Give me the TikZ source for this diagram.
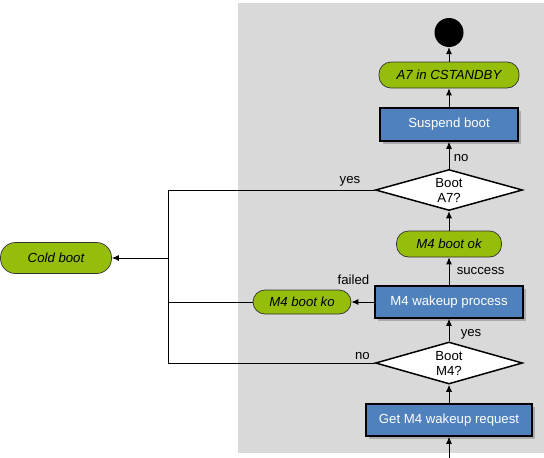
\documentclass[tikz,border=0pt]{standalone}
\usepackage{fontspec}
\setmainfont{Liberation Sans}
\usetikzlibrary{shapes.geometric,shadows,positioning,arrows.meta}
\definecolor{bggrey}{HTML}{D9D9D9}
\definecolor{boxblue}{HTML}{4F81BD}
\definecolor{stategreen}{HTML}{95BE0B}
\newcommand{\flowfont}{\fontsize{13.2}{15}\selectfont}
\tikzset{
  every node/.style={font=\flowfont},
  procbox/.style={rectangle, draw=black, line width=1.6pt, fill=boxblue, text=white, minimum height=32pt,
    drop shadow={shadow xshift=2.5pt, shadow yshift=-2.5pt, fill=black!40, opacity=0.7}},
  statebox/.style={rectangle, rounded corners=12pt, draw=black!80, line width=0.7pt, fill=stategreen,
    font=\flowfont\itshape, minimum height=26pt},
  decision/.style={diamond, draw=black, line width=1.5pt, fill=white, aspect=3.6, inner sep=0pt,
    minimum width=147pt, minimum height=42pt, align=center},
  flow/.style={-{Latex[length=7pt,width=6pt]}, line width=0.9pt},
  wire/.style={line width=0.9pt}
}
\begin{document}
\begin{tikzpicture}[x=1pt, y=-1pt, on grid]
    \useasboundingbox (0,0) rectangle (544,458);
    \fill[bggrey] (238,3) rectangle (544,453);

    \node(request) [procbox, minimum width=166pt] at (449,420) {Get M4 wakeup request};
    \node(m4q) [decision, above=57pt of request] {Boot\\M4?};
    \node(proc) [procbox, minimum width=148pt, above=61pt of m4q] {M4 wakeup process};
    \node(ok) [statebox, minimum width=105pt, above=58pt of proc] {M4 boot ok};
    \node(a7q) [decision, minimum height=41pt, above=54pt of ok] {Boot\\A7?};
    \node(suspend) [procbox, minimum width=138pt, minimum height=33pt, above=65.5pt of a7q] {Suspend boot};
    \node(standby) [statebox, minimum width=140pt, above=49.5pt of suspend] {A7 in CSTANDBY};
    \node(done) [circle, fill=black, minimum size=29pt, inner sep=0pt, above=42.5pt of standby] {};
    \node(ko) [statebox, minimum width=98pt, minimum height=24pt, left=147pt of proc] {M4 boot ko};
    \node(cold) [statebox, minimum width=111pt, minimum height=31pt, rounded corners=15pt] at (56,258) {Cold boot};
    \coordinate(entry) at (449,458);
    \coordinate(branch) at (168,258);

    \draw[flow] (entry) -- (request);
    \draw[flow] (request) -- (m4q);
    \draw[flow] (m4q) -- node[right=8pt, pos=0.3]{yes} (proc);
    \draw[flow] (proc) -- node[right=4pt, pos=0.5]{success} (ok);
    \draw[flow] (ok) -- (a7q);
    \draw[flow] (a7q) -- node[right=1pt, pos=0.4]{no} (suspend);
    \draw[flow] (suspend) -- (standby);
    \draw[flow] (standby) -- (done);
    \draw[flow] (proc) -- node[pos=0.91, above=14pt]{failed} (ko);
    \draw[wire] (a7q.west) -- node[pos=0.12, above]{yes} (a7q.west -| branch)
        -- (m4q.west -| branch) -- node[pos=0.94, above]{no} (m4q.west);
    \draw[wire] (ko.west) -- (ko.west -| branch);
    \draw[flow] (branch) -- (cold);
\end{tikzpicture}
\end{document}
